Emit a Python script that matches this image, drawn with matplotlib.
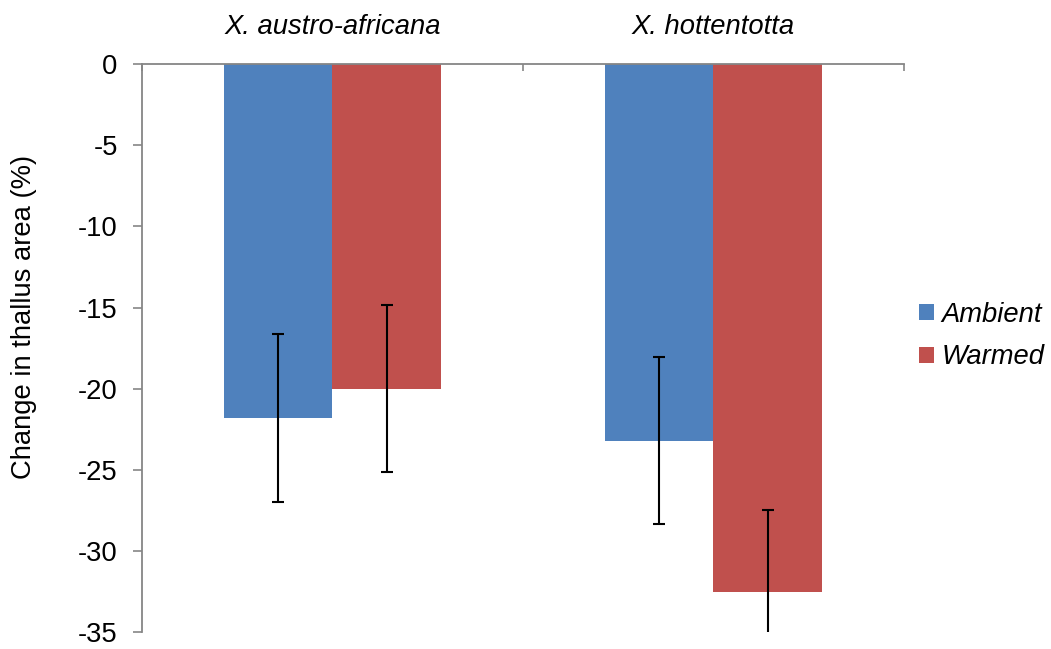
import matplotlib.pyplot as plt
import numpy as np

plt.rcParams['font.family'] = ['Liberation Sans', 'DejaVu Sans']

species = ['X. austro-africana', 'X. hottentotta']
ambient = [-21.8, -23.2]
warmed = [-20.0, -32.5]
ambient_err = [5.15, 5.15]
warmed_err = [5.15, 5.05]
yticks = [0, -5, -10, -15, -20, -25, -30, -35]

FS = 19.7

fig = plt.figure(figsize=(10.51, 6.49), dpi=100)
ax = fig.add_axes((0.1351, 0.0257, 0.7250, 0.8756))

x = np.arange(len(species))
w = 0.286
ebar = dict(ecolor='black', elinewidth=1.5, capsize=4, capthick=1.5)
ax.bar(x - w / 2, ambient, w, color='#4F81BD', label='Ambient',
       yerr=ambient_err, error_kw=ebar)
ax.bar(x + w / 2, warmed, w, color='#C0504D', label='Warmed',
       yerr=warmed_err, error_kw=ebar)

ax.set_xlim(-0.5, 1.5)
ax.set_ylim(-35, 0)
ax.set_yticks(yticks)
ax.set_yticklabels([str(t) for t in yticks])
ax.tick_params(axis='y', direction='out', length=6.5, width=1.2,
               color='#868686', labelsize=FS, pad=11)

ax.xaxis.tick_top()
ax.set_xticks([-0.5, 0.5, 1.5])
ax.set_xticklabels([])
ax.tick_params(axis='x', direction='in', length=5, width=1.2, color='#868686')

for s in ['bottom', 'right']:
    ax.spines[s].set_visible(False)
for s in ['top', 'left']:
    ax.spines[s].set_color('#868686')
    ax.spines[s].set_linewidth(1.3)

for xi, name in zip(x, species):
    ax.text(xi, 1.065, name, transform=ax.get_xaxis_transform(),
            ha='center', va='center', fontsize=FS, style='italic')

ax.set_ylabel('Change in thallus area (%)', fontsize=FS)
ax.yaxis.label.set_verticalalignment('center')
ax.yaxis.set_label_coords(-0.155, 0.555)

ax.legend(loc='center left', bbox_to_anchor=(0.988, 0.521), frameon=False,
          prop={'size': FS, 'style': 'italic'}, handlelength=0.52,
          handleheight=0.52, handletextpad=0.28, labelspacing=0.6)

fig.savefig('out.png', dpi=100)
